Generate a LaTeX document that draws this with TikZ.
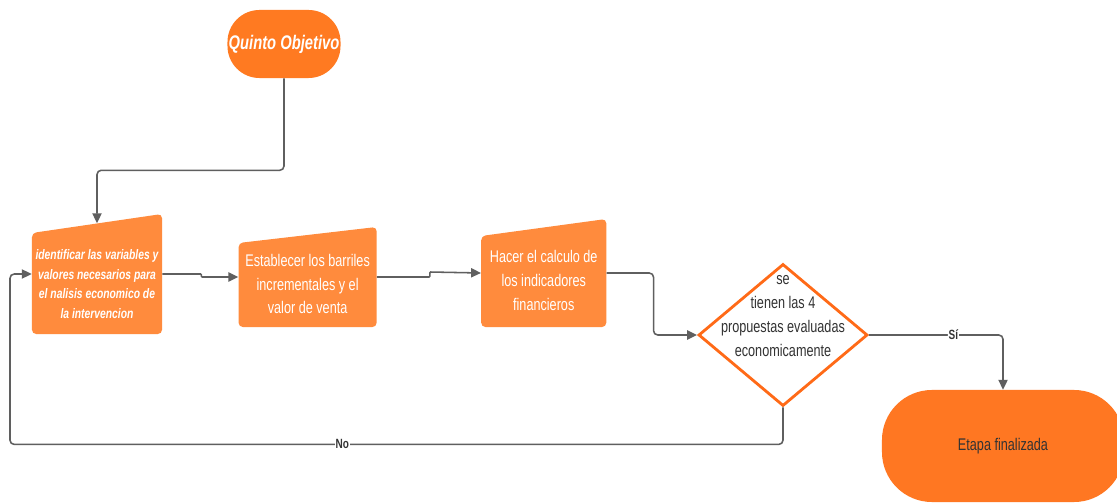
\documentclass[tikz,border=0pt]{standalone}
\usepackage{fontspec}
\usetikzlibrary{shapes.geometric,arrows.meta,positioning}
\newfontfamily\cond[FakeStretch=0.75]{Liberation Sans}
\newcommand\titlefont{\cond\fontsize{14}{16}\selectfont\bfseries\itshape}
\newcommand\smallfont{\cond\fontsize{9.8}{14}\selectfont\bfseries\itshape}
\newcommand\bodyfont{\cond\fontsize{12}{17}\selectfont}
\newcommand\lblfont{\cond\fontsize{9.5}{10}\selectfont\bfseries}
\definecolor{startorange}{HTML}{FF7A21}
\definecolor{boxorange}{HTML}{FF8B3D}
\definecolor{endorange}{HTML}{FF7722}
\definecolor{rimorange}{HTML}{FF6A17}
\definecolor{linegray}{HTML}{5F5F5F}
\definecolor{darktext}{HTML}{333333}

\begin{document}
\begin{tikzpicture}[x=0.025cm, y=-0.025cm,
    conn/.style={draw=linegray, line width=1.1pt, rounded corners=3pt,
      -{Triangle[length=7pt,width=6.5pt]}},
    pill/.style={fill=#1, inner sep=0pt},
    manual/.style={fill=white, inner sep=0pt,
      path picture={\fill[boxorange, rounded corners=3pt]
        (path picture bounding box.south west)
        -- ([yshift=-#1]path picture bounding box.north west)
        -- (path picture bounding box.north east)
        -- (path picture bounding box.south east) -- cycle;}},
    boxtext/.style={text=white, align=center, inner sep=0pt},
    lbl/.style={fill=white, text=darktext, font=\lblfont, inner sep=0.5pt}]
  \fill[white, use as bounding box] (0,0) rectangle (1117,504);

  \node[pill=startorange, rounded corners=0.8cm, minimum width=2.825cm,
    minimum height=1.7cm, text=white, font=\titlefont] (obj) at (284,44) {Quinto Objetivo};

  \node[manual=0.475cm, minimum width=3.25cm, minimum height=3cm] (id) at (97,274) {};
  \node[boxtext, font=\smallfont] (id-t) at ([yshift=-0.25cm]id.center)
    {identificar las variables y\\valores necesarios para\\el nalisis economico de\\la intervencion};

  \node[manual=0.4cm, minimum width=3.45cm, minimum height=2.5cm,
    right=1.9cm of id, yshift=-0.075cm] (est) {};
  \node[boxtext, font=\bodyfont] (est-t) at ([yshift=-0.175cm]est.center)
    {Establecer los barriles\\incrementales y el\\valor de venta};

  \node[manual=0.425cm, minimum width=3.125cm, minimum height=2.7cm,
    right=2.6cm of est, yshift=0.1cm] (calc) {};
  \node[boxtext, font=\bodyfont] (calc-t) at ([yshift=-0.19cm]calc.center)
    {Hacer el calculo de\\los indicadores\\financieros};

  \node[diamond, draw=rimorange, line width=2pt, fill=white, inner sep=0pt,
    minimum width=4.225cm, minimum height=3.55cm] (dec) at (783,335) {};
  \node[align=center, text=darktext, font=\bodyfont, inner sep=0pt] (dec-t)
    at ([yshift=0.475cm]dec.center) {se\\tienen las 4\\propuestas evaluadas\\economicamente};

  \node[pill=endorange, rounded corners=1.25cm, minimum width=6.05cm,
    minimum height=2.8cm, text=darktext, font=\bodyfont] (fin) at (1003,446) {Etapa finalizada};

  \draw[conn] (obj.south) -- ++(0,92) -| ([yshift=-0.2375cm]id.north);
  \draw[conn, rounded corners=0.6pt] (id.east) -- ++(39,0) -- ++(0,3) -- (est.west);
  \draw[conn, rounded corners=0.6pt] (est.east) -- ++(53,0) -- ++(0,-5) -- (calc.west);
  \draw[conn] (calc.east) -- ++(47,0) |- (dec.west);
  \draw[conn] (dec.east) -| node[lbl, pos=0.315] {Sí} (fin.north);
  \draw[conn] (dec.south) -- ++(0,37) -- node[lbl, pos=0.57] {No} ++(-773,0) |- (id.west);
\end{tikzpicture}
\end{document}
